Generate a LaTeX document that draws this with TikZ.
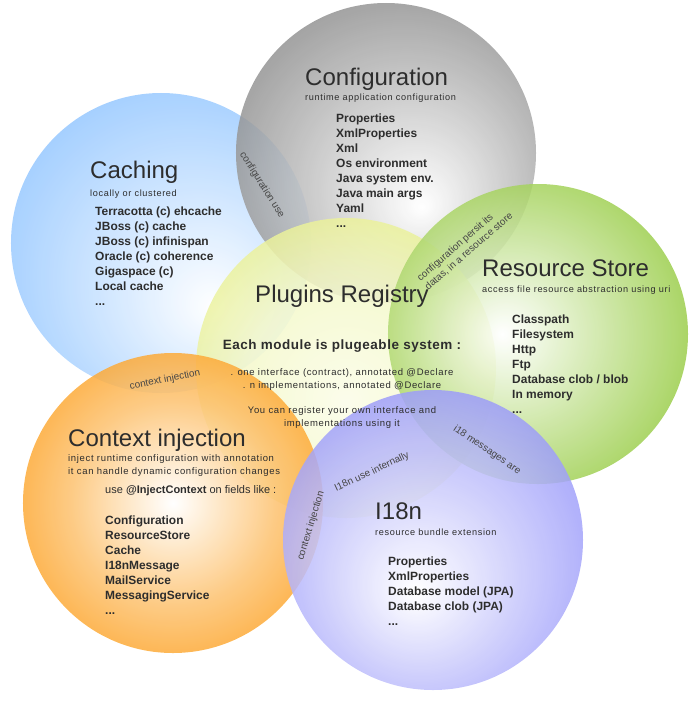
\documentclass[tikz,border=0pt]{standalone}
\usepackage{fontspec}
\setmainfont{Liberation Sans}
\newfontfamily\spacedfont[LetterSpace=7]{Liberation Sans}
\newfontfamily\widefont[LetterSpace=4]{Liberation Sans}
\definecolor{CfgGray}{RGB}{142,142,142}
\definecolor{CacheBlue}{RGB}{149,199,255}
\definecolor{RegYellow}{RGB}{232,240,140}
\definecolor{StoreGreen}{RGB}{144,200,55}
\definecolor{InjectOrange}{RGB}{252,153,16}
\definecolor{LangPurple}{RGB}{150,150,249}
\definecolor{TextGray}{RGB}{45,45,45}
\definecolor{NoteGray}{RGB}{70,70,70}
% white spot of each bubble, rim of the node at about 35bp
\pgfdeclareradialshading{cfgshade}{\pgfpoint{6bp}{-9bp}}{color(0bp)=(white); color(17bp)=(CfgGray!55); color(31bp)=(CfgGray); color(50bp)=(CfgGray)}
\pgfdeclareradialshading{cacheshade}{\pgfpoint{9bp}{-11bp}}{color(0bp)=(white); color(17bp)=(CacheBlue!55); color(31bp)=(CacheBlue); color(50bp)=(CacheBlue)}
\pgfdeclareradialshading{regshade}{\pgfpoint{0bp}{-6bp}}{color(0bp)=(RegYellow!20); color(17bp)=(RegYellow!45); color(31bp)=(RegYellow); color(50bp)=(RegYellow)}
\pgfdeclareradialshading{storeshade}{\pgfpoint{-6bp}{0bp}}{color(0bp)=(white); color(17bp)=(StoreGreen!55); color(31bp)=(StoreGreen); color(50bp)=(StoreGreen)}
\pgfdeclareradialshading{injectshade}{\pgfpoint{0bp}{0bp}}{color(0bp)=(white); color(17bp)=(InjectOrange!60); color(31bp)=(InjectOrange); color(50bp)=(InjectOrange)}
\pgfdeclareradialshading{langshade}{\pgfpoint{-3bp}{-9bp}}{color(0bp)=(white); color(17bp)=(LangPurple!55); color(31bp)=(LangPurple); color(50bp)=(LangPurple)}

\begin{document}
\begin{tikzpicture}[
        x=0.03cm, y=-0.03cm,
        bubble/.style={
            circle,
            shade,
            minimum size=9cm,
            inner sep=0pt,
            fill opacity=0.85
        },
        title/.style={
            anchor=base west,
            inner sep=0pt,
            text=TextGray,
            font=\fontsize{20.5}{24}\selectfont
        },
        subtitle/.style={
            anchor=base west,
            inner sep=0pt,
            text=TextGray,
            align=left,
            font=\spacedfont\fontsize{7.8}{11.1}\selectfont
        },
        items/.style={
            anchor=base west,
            inner sep=0pt,
            text=TextGray,
            align=left,
            font=\bfseries\fontsize{10.2}{12.8}\selectfont
        },
        note/.style={
            inner sep=0pt,
            text=NoteGray,
            font=\fontsize{8.5}{10.2}\selectfont
        }
    ]
        \useasboundingbox (0,0) rectangle (693,714);

        % Bubbles
        \node[bubble, shading=cacheshade] (cache) at (161,243) {};
        \node[bubble, shading=cfgshade] (cfg) at (386,153) {};
        \node[bubble, shading=regshade] (registry) at (346,368) {};
        \node[bubble, shading=storeshade] (store) at (538,334) {};
        \node[bubble, shading=injectshade] (inject) at (173,503) {};
        \node[bubble, shading=langshade] (lang) at (433,540) {};

        % Configuration (multi-line nodes sit on their last baseline)
        \node[title] (cfg-title) at (305,85) {Configuration};
        \node[subtitle] (cfg-sub) at (305,100) {runtime application configuration};
        \node[items] (cfg-list) at (336,227.5) {Properties\\XmlProperties\\Xml\\Os environment\\Java system env.\\Java main args\\Yaml\\...};

        % Caching
        \node[title] (cache-title) at (90,178) {Caching};
        \node[subtitle] (cache-sub) at (90,196.5) {locally or clustered};
        \node[items] (cache-list) at (95,305.5) {Terracotta (c) ehcache\\JBoss (c) cache\\JBoss (c) infinispan\\Oracle (c) coherence\\Gigaspace (c)\\Local cache\\...};

        % Plugins Registry
        \node[title, anchor=base] (reg-title) at (342,302) {Plugins Registry};
        \node[anchor=base, inner sep=0pt, text=TextGray, font=\widefont\bfseries\fontsize{11.5}{14}\selectfont] (reg-head) at (342,349) {Each module is plugeable system :};
        \node[subtitle, anchor=base, align=center, font=\spacedfont\fontsize{8.1}{11.1}\selectfont] (reg-rules) at (342,388) {. one interface (contract), annotated @Declare\\. n implementations, annotated @Declare};
        \node[subtitle, anchor=base, align=center, font=\spacedfont\fontsize{8.1}{10.3}\selectfont] (reg-own) at (342,426) {You can register your own interface and\\implementations using it};

        % Resource Store
        \node[title] (store-title) at (482,276.5) {Resource Store};
        \node[subtitle] (store-sub) at (482,292.5) {access file resource abstraction using uri};
        \node[items] (store-list) at (512,413.3) {Classpath\\Filesystem\\Http\\Ftp\\Database clob / blob\\In memory\\...};

        % Context injection
        \node[title] (inject-title) at (68,446) {Context injection};
        \node[subtitle, font=\spacedfont\fontsize{8.1}{11.1}\selectfont] (inject-sub) at (68,474.7) {inject runtime configuration with annotation\\it can handle dynamic configuration changes};
        \node[anchor=base west, inner sep=0pt, text=TextGray, font=\fontsize{9.4}{11}\selectfont] (inject-use) at (105,493.3) {use \textbf{@InjectContext} on fields like :};
        \node[items] (inject-list) at (105,614) {Configuration\\ResourceStore\\Cache\\I18nMessage\\MailService\\MessagingService\\...};

        % I18n
        \node[title] (lang-title) at (375,519) {I18n};
        \node[subtitle] (lang-sub) at (375,535.3) {resource bundle extension};
        \node[items] (lang-list) at (388,625.7) {Properties\\XmlProperties\\Database model (JPA)\\Database clob (JPA)\\...};

        % Overlap notes
        \node[note, rotate=-58] (note-cfg-use) at (262,185) {configuration use};
        \node[note, rotate=41, align=left] (note-persist) at (465,247) {configuration persit its\\datas, in a resource store};
        \node[note, rotate=11] (note-inject-a) at (165,380) {context injection};
        \node[note, rotate=73] (note-inject-b) at (311,526) {context injection};
        \node[note, rotate=25] (note-i18n-use) at (372,472) {I18n use internally};
        \node[note, rotate=-34] (note-msg) at (487,450) {i18 messages are};
    \end{tikzpicture}
\end{document}
